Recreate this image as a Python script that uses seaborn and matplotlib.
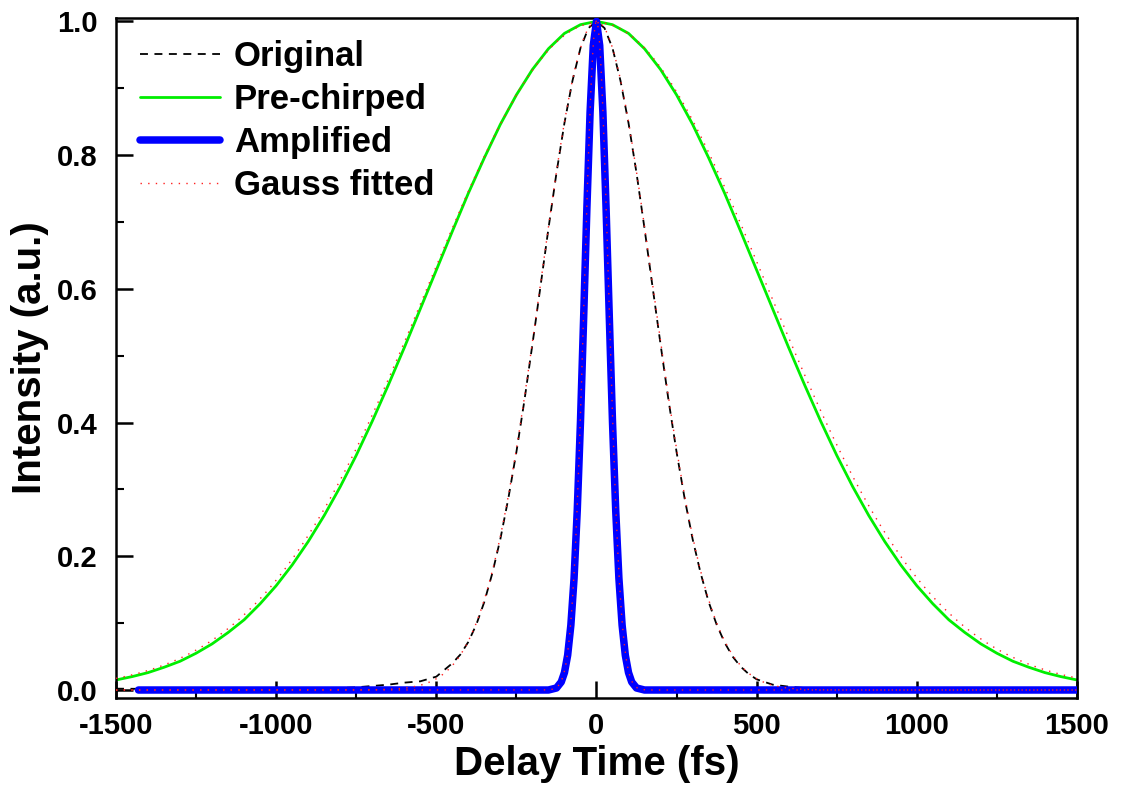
import numpy as np
import pandas as pd
import matplotlib
matplotlib.use("Agg")
import matplotlib.pyplot as plt
from matplotlib.lines import Line2D
from matplotlib.ticker import MultipleLocator
import seaborn as sns

# ---------------- data ----------------
orig_time = [-1500, -1200, -1000, -900, -800, -750, -700, -650, -600, -550,
             -500, -475, -450, -425, -400, -375, -350, -325, -300, -275,
             -250, -225, -200, -175, -150, -125, -100, -75, -50, -25,
             0,
             25, 50, 75, 100, 125, 150, 175, 200, 225, 250,
             275, 300, 325, 350, 375, 400, 425, 450, 475, 500,
             550, 600, 650, 700, 800, 900, 1000, 1200, 1500]
orig_int = [0.002, 0.001, 0.000, 0.001, 0.003, 0.004, 0.006, 0.008, 0.011, 0.013,
            0.020, 0.030, 0.040, 0.053, 0.072, 0.098, 0.132, 0.175, 0.226, 0.287,
            0.356, 0.433, 0.517, 0.603, 0.690, 0.773, 0.848, 0.911, 0.960, 0.990,
            1.000,
            0.990, 0.960, 0.911, 0.848, 0.773, 0.690, 0.603, 0.517, 0.433, 0.356,
            0.287, 0.226, 0.175, 0.132, 0.098, 0.071, 0.050, 0.035, 0.024, 0.016,
            0.008, 0.005, 0.003, 0.002, 0.001, 0.000, 0.000, 0.000, 0.000]

pre_time = list(range(-1500, 1501, 50))
pre_int = [0.015, 0.020, 0.026, 0.034, 0.043, 0.055, 0.069, 0.086, 0.105, 0.129,
           0.156, 0.187, 0.222, 0.261, 0.304, 0.351, 0.402, 0.456, 0.512, 0.570,
           0.628, 0.686, 0.743, 0.796, 0.846, 0.890, 0.928, 0.959, 0.982, 0.995,
           1.000,
           0.995, 0.982, 0.959, 0.928, 0.890, 0.846, 0.796, 0.743, 0.686, 0.628,
           0.570, 0.512, 0.456, 0.402, 0.351, 0.304, 0.261, 0.222, 0.187, 0.156,
           0.129, 0.105, 0.086, 0.069, 0.055, 0.043, 0.034, 0.026, 0.020, 0.015]

amp_time = [-1430, -150, -125, -110, -100, -90, -80, -70, -60, -50, -40, -30, -20, -10,
            0, 10, 20, 30, 40, 50, 60, 70, 80, 90, 100, 110, 125, 150, 1500]
amp_int = [0.000, 0.000, 0.003, 0.012, 0.026, 0.052, 0.097, 0.167, 0.269, 0.401, 0.558,
           0.720, 0.864, 0.964, 1.000, 0.964, 0.864, 0.720, 0.558, 0.401, 0.269, 0.167,
           0.097, 0.052, 0.026, 0.012, 0.003, 0.000, 0.000]

# Gaussian fit parameters (Original, Pre-chirped, Amplified)
fit_center = [0.0, 3.0, 0.0]
fit_sigma = [175.0, 528.0, 37.5]
fit_amp = [1.0, 0.998, 1.0]
fit_range = [-1500, 1500]

legend_labels = ["Original", "Pre-chirped", "Amplified", "Gauss fitted"]
x_ticks = [-1500, -1000, -500, 0, 500, 1000, 1500]
y_ticks = [0.0, 0.2, 0.4, 0.6, 0.8, 1.0]

# ---------------- style ----------------
sns.set_theme(style="ticks")
plt.rcParams["font.family"] = ["Liberation Sans", "DejaVu Sans"]
plt.rcParams["font.weight"] = "bold"
plt.rcParams["axes.labelweight"] = "bold"
for key in ["text.color", "axes.labelcolor", "xtick.color", "ytick.color",
            "axes.edgecolor"]:
    plt.rcParams[key] = "black"

fig = plt.figure(figsize=(11.21, 7.89), dpi=100)
ax = fig.add_axes([0.1035, 0.1153, 0.8572, 0.8619])

df_orig = pd.DataFrame({"t": orig_time, "I": orig_int})
df_pre = pd.DataFrame({"t": pre_time, "I": pre_int})
df_amp = pd.DataFrame({"t": amp_time, "I": amp_int})

c_green = "#00ee00"
c_blue = "#0000ff"
c_red = "#ff2020"

sns.lineplot(data=df_pre, x="t", y="I", ax=ax, color=c_green, lw=2.0,
             sort=False, estimator=None, zorder=2)
sns.lineplot(data=df_orig, x="t", y="I", ax=ax, color="black", lw=1.3,
             sort=False, estimator=None, zorder=3)
ax.lines[-1].set_dashes((4.4, 3.6))
sns.lineplot(data=df_amp, x="t", y="I", ax=ax, color=c_blue, lw=5.4,
             sort=False, estimator=None, zorder=4)
ax.lines[-1].set_solid_capstyle("round")
ax.lines[-1].set_solid_joinstyle("round")

t_fit = np.linspace(fit_range[0], fit_range[1], 1201)
for c, s, a in zip(fit_center, fit_sigma, fit_amp):
    df_fit = pd.DataFrame({"t": t_fit, "I": a * np.exp(-(t_fit - c) ** 2 / (2 * s ** 2))})
    sns.lineplot(data=df_fit, x="t", y="I", ax=ax, color=c_red, lw=1.0,
                 sort=False, estimator=None, zorder=5)
    ax.lines[-1].set_dashes((1.0, 4.5))

ax.set_xlim(-1500, 1500)
ax.set_ylim(-0.012, 1.005)
ax.set_xticks(x_ticks)
ax.set_yticks(y_ticks)
ax.set_xticklabels([str(v) for v in x_ticks])
ax.set_yticklabels([f"{v:.1f}" for v in y_ticks])
ax.xaxis.set_minor_locator(MultipleLocator(250))
ax.yaxis.set_minor_locator(MultipleLocator(0.1))
ax.tick_params(axis="x", which="major", direction="in", length=12, width=1.8,
               labelsize=21, pad=10, color="black", labelcolor="black")
ax.tick_params(axis="y", which="major", direction="in", length=12, width=1.8,
               labelsize=21, pad=13, color="black", labelcolor="black")
ax.tick_params(axis="both", which="minor", direction="in", length=6, width=1.5,
               color="black")
for lab in ax.get_xticklabels() + ax.get_yticklabels():
    lab.set_fontweight("bold")
for sp in ax.spines.values():
    sp.set_visible(True)
    sp.set_linewidth(1.8)
    sp.set_color("black")

ax.set_xlabel("Delay Time (fs)", fontsize=29, fontweight="bold", labelpad=4,
              color="black")
ax.set_ylabel("Intensity (a.u.)", fontsize=29, fontweight="bold", labelpad=6,
              color="black")

handles = [
    Line2D([], [], color="black", lw=1.3, dashes=(4.4, 3.6)),
    Line2D([], [], color=c_green, lw=2.0),
    Line2D([], [], color=c_blue, lw=5.4, solid_capstyle="round"),
    Line2D([], [], color=c_red, lw=1.0, dashes=(1.0, 4.5)),
]
leg = ax.legend(handles, legend_labels, loc="upper left",
                bbox_to_anchor=(0.025, 0.968), frameon=False, borderpad=0,
                borderaxespad=0, handlelength=2.3,
                handletextpad=0.4, labelspacing=0.29,
                prop={"weight": "bold", "size": 25})
for txt in leg.get_texts():
    txt.set_color("black")

fig.savefig("out.png", dpi=100)
